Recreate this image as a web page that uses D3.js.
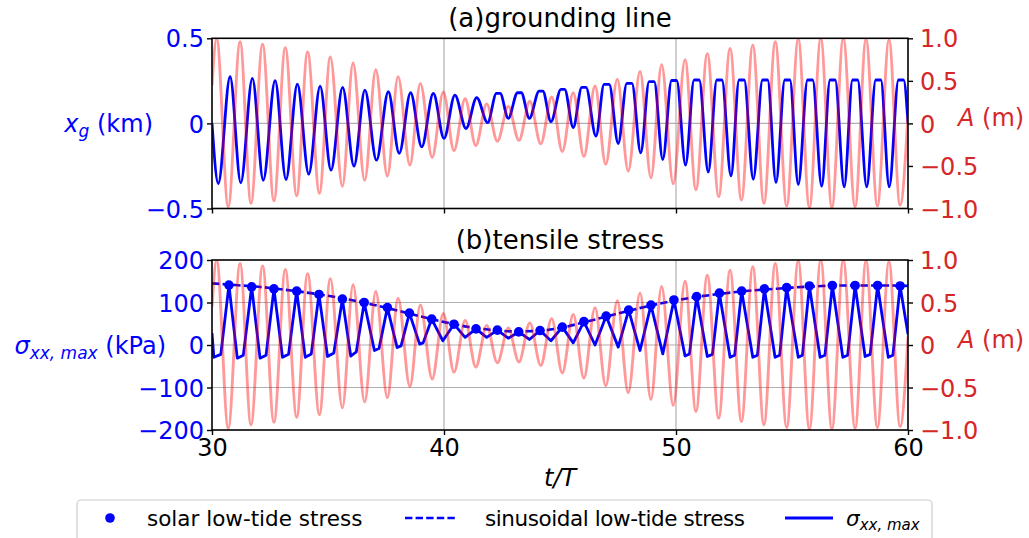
<!DOCTYPE html>
<html>
<head>
<meta charset="utf-8">
<script src="https://cdnjs.cloudflare.com/ajax/libs/d3/7.8.5/d3.min.js"></script>
<style>
  body { margin: 0; background: #fff; }
  text { font-family: "DejaVu Sans", sans-serif; }
</style>
</head>
<body>
<div id="chart"></div>
<script>
// tide A (m): peaks / troughs, [t/T, A]
var tidePts = [
  [30.00, 0.45], [30.20, 1.00], [30.70, -0.98], [31.21, 0.96], [31.68, -0.94],
  [32.18, 0.93], [32.67, -0.91], [33.16, 0.89], [33.65, -0.85], [34.12, 0.84],
  [34.63, -0.82], [35.10, 0.78], [35.62, -0.74], [36.08, 0.71], [36.58, -0.67],
  [37.06, 0.63], [37.56, -0.62], [38.02, 0.55], [38.53, -0.49], [38.98, 0.47],
  [39.49, -0.40], [39.97, 0.37], [40.43, -0.32], [40.91, 0.29], [41.37, -0.26],
  [41.84, 0.23], [42.30, -0.21], [42.77, 0.20], [43.23, -0.20], [43.70, 0.26],
  [44.17, -0.24], [44.64, 0.31], [45.10, -0.33], [45.57, 0.36], [46.03, -0.39],
  [46.51, 0.44], [46.97, -0.48], [47.47, 0.52], [47.94, -0.56], [48.45, 0.61],
  [48.92, -0.64], [49.38, 0.69], [49.88, -0.71], [50.39, 0.75], [50.86, -0.78],
  [51.35, 0.82], [51.84, -0.86], [52.33, 0.88], [52.82, -0.90], [53.31, 0.92],
  [53.79, -0.94], [54.28, 0.96], [54.77, -0.97], [55.27, 0.99], [55.75, -0.99],
  [56.24, 1.00], [56.72, -0.99], [57.21, 1.00], [57.72, -0.98], [58.19, 0.99],
  [58.68, -0.97], [59.18, 0.98], [59.66, -0.96], [60.00, 0.10]
];

// grounding line x_g (km)
var xgPts = [
  [30.00, 0.00], [30.27, -0.353], [30.78, 0.274], [31.24, -0.349], [31.74, 0.265],
  [32.21, -0.334], [32.72, 0.251], [33.19, -0.329], [33.68, 0.231], [34.17, -0.298],
  [34.66, 0.219], [35.13, -0.275], [35.63, 0.212], [36.12, -0.251], [36.59, 0.196],
  [37.09, -0.216], [37.60, 0.186], [38.07, -0.176], [38.56, 0.180], [39.04, -0.138],
  [39.54, 0.176], [40.00, -0.088], [40.47, 0.166], [40.95, -0.030], [41.41, 0.151],
  [41.88, 0.004], [42.26, 0.176], [42.42, 0.176], [42.77, 0.030], [43.17, 0.180],
  [43.33, 0.180], [43.68, 0.030], [44.10, 0.190], [44.26, 0.190], [44.61, 0.010],
  [45.04, 0.200], [45.20, 0.200], [45.57, -0.024], [45.94, 0.212], [46.12, 0.212],
  [46.55, -0.075], [46.90, 0.229], [47.12, 0.229], [47.51, -0.118], [47.88, 0.235],
  [48.10, 0.235], [48.48, -0.173], [48.84, 0.245], [49.06, 0.245], [49.43, -0.212],
  [49.81, 0.252], [50.03, 0.252], [50.41, -0.245], [50.78, 0.255], [51.00, 0.255],
  [51.39, -0.285], [51.76, 0.255], [51.98, 0.255], [52.37, -0.308], [52.72, 0.255],
  [52.94, 0.255], [53.33, -0.328], [53.73, 0.255], [53.95, 0.255], [54.31, -0.347],
  [54.69, 0.255], [54.91, 0.255], [55.27, -0.359], [55.67, 0.255], [55.89, 0.255],
  [56.28, -0.369], [56.64, 0.255], [56.86, 0.255], [57.25, -0.373], [57.61, 0.255],
  [57.83, 0.255], [58.22, -0.373], [58.61, 0.255], [58.83, 0.255], [59.19, -0.373],
  [59.59, 0.255], [59.81, 0.255], [60.00, 0.00]
];

// sigma_xx,max (kPa)
var stressPts = [
  [30.00, 28], [30.08, -29], [30.38, -22], [30.73, 141], [31.09, -31], [31.35, -24],
  [31.71, 137], [32.07, -31], [32.33, -24], [32.67, 132], [33.04, -29], [33.30, -22],
  [33.65, 127], [34.02, -29], [34.28, -21], [34.61, 119], [34.98, -27], [35.25, -19],
  [35.62, 108], [35.98, -26], [36.22, -16], [36.56, 100], [37.00, -13], [37.20, -8],
  [37.56, 88], [37.98, -6], [38.15, -2], [38.51, 75], [38.95, 2], [39.10, 5],
  [39.47, 61], [39.95, 10], [40.43, 49], [40.91, 18], [41.38, 38], [41.84, 18],
  [42.30, 35], [42.77, 16], [43.22, 31], [43.68, 13], [44.14, 34], [44.61, 10],
  [45.10, 42], [45.57, 5], [46.03, 55], [46.51, 0], [46.99, 68], [47.51, -5],
  [47.96, 82], [48.45, -13], [48.92, 94], [49.43, -21], [49.91, 106], [50.39, -26],
  [50.58, -21], [50.89, 114], [51.35, -27], [51.57, -22], [51.87, 122], [52.33, -29],
  [52.53, -24], [52.83, 127], [53.31, -29], [53.51, -24], [53.81, 132], [54.27, -29],
  [54.47, -24], [54.77, 135], [55.27, -29], [55.45, -24], [55.75, 139], [56.21, -29],
  [56.42, -24], [56.74, 140], [57.19, -29], [57.40, -24], [57.72, 140], [58.15, -27],
  [58.37, -22], [58.69, 140], [59.15, -29], [59.35, -24], [59.66, 139], [60.00, 25]
];

// solar low-tide stress (dots)
var solarPts = [
  [30.73, 141], [31.71, 137], [32.67, 132], [33.65, 127], [34.61, 119], [35.62, 108],
  [36.56, 100], [37.56, 88], [38.51, 75], [39.47, 61], [40.43, 49], [41.38, 38],
  [42.30, 35], [43.22, 31], [44.14, 34], [45.10, 42], [46.03, 55], [46.99, 68],
  [47.96, 82], [48.92, 94], [49.91, 106], [50.89, 114], [51.87, 122], [52.83, 127],
  [53.81, 132], [54.77, 135], [55.75, 139], [56.74, 140], [57.72, 140], [58.69, 140],
  [59.66, 139]
];

// sinusoidal low-tide stress (dashed)
var sinusPts = [
  [30, 145], [31, 141], [32, 137], [33, 131], [34, 124], [35, 116], [36, 106],
  [37, 94], [38, 81], [39, 67], [40, 54], [41, 43], [42, 36], [43, 32], [44, 33],
  [45, 40], [46, 53], [47, 67], [48, 81], [49, 94], [50, 105], [51, 114], [52, 121],
  [53, 127], [54, 131], [55, 135], [56, 138], [57, 140], [58, 140], [59, 140], [60, 139]
];

var xTicks = [30, 40, 50, 60];
var xgTicks = [-0.5, 0, 0.5];
var aTicks = [-1.0, -0.5, 0, 0.5, 1.0];
var stressTicks = [-200, -100, 0, 100, 200];

var svgWidth = 1029;
var svgHeight = 538;
var left = 212, right = 908;

var svg = d3.select("#chart")
  .append("svg")
  .attr("width", svgWidth)
  .attr("height", svgHeight);

var xScale = d3.scaleLinear().domain([30, 60]).range([left, right]);

var panels = [
  { top: 38.3, bottom: 208.5, title: "(a)grounding line", id: "a" },
  { top: 260, bottom: 430, title: "(b)tensile stress", id: "b" }
];

var fmtA = d => d === 0 ? "0" : d3.format(".1f")(d);

panels.forEach(function(p, i) {
  p.yA = d3.scaleLinear().domain([-1, 1]).range([p.bottom, p.top]);
  if (i === 0) {
    p.yL = d3.scaleLinear().domain([-0.5, 0.5]).range([p.bottom, p.top]);
    p.lTicks = xgTicks;
    p.lFmt = d => d === 0 ? "0" : d3.format(".1f")(d);
  } else {
    p.yL = d3.scaleLinear().domain([-200, 200]).range([p.bottom, p.top]);
    p.lTicks = stressTicks;
    p.lFmt = d3.format("d");
  }

  svg.append("clipPath").attr("id", "clip" + p.id)
    .append("rect")
    .attr("x", left).attr("y", p.top)
    .attr("width", right - left).attr("height", p.bottom - p.top);

  var g = svg.append("g");

  // grid
  g.selectAll(".vgrid").data([40, 50]).enter().append("line")
    .attr("x1", d => xScale(d)).attr("x2", d => xScale(d))
    .attr("y1", p.top).attr("y2", p.bottom)
    .attr("stroke", "#b0b0b0").attr("stroke-width", 1.2);
  g.selectAll(".hgrid").data(p.lTicks.slice(1, -1)).enter().append("line")
    .attr("x1", left).attr("x2", right)
    .attr("y1", d => p.yL(d)).attr("y2", d => p.yL(d))
    .attr("stroke", "#b0b0b0").attr("stroke-width", 1.2);

  p.g = g.append("g").attr("clip-path", "url(#clip" + p.id + ")");

  // left axis
  var la = svg.append("g")
    .attr("transform", `translate(${left},0)`)
    .call(d3.axisLeft(p.yL).tickValues(p.lTicks).tickFormat(p.lFmt).tickSize(5).tickPadding(3));
  la.select(".domain").remove();
  la.selectAll("line").attr("stroke", "#000").attr("stroke-width", 1.4);
  la.selectAll("text").attr("fill", "#0000ff").attr("font-size", "24px")
    .attr("font-family", "DejaVu Sans").attr("dy", "0.36em");

  // right axis
  var ra = svg.append("g")
    .attr("transform", `translate(${right},0)`)
    .call(d3.axisRight(p.yA).tickValues(aTicks).tickFormat(fmtA).tickSize(5).tickPadding(7));
  ra.select(".domain").remove();
  ra.selectAll("line").attr("stroke", "#000").attr("stroke-width", 1.4);
  ra.selectAll("text").attr("fill", "#d62728").attr("font-size", "24px")
    .attr("font-family", "DejaVu Sans").attr("dy", "0.36em");

  // bottom axis
  var ba = svg.append("g")
    .attr("transform", `translate(0,${p.bottom})`)
    .call(d3.axisBottom(xScale).tickValues(xTicks).tickSize(5).tickPadding(4)
      .tickFormat(i === 1 ? d3.format("d") : ""));
  ba.select(".domain").remove();
  ba.selectAll("line").attr("stroke", "#000").attr("stroke-width", 1.4);
  ba.selectAll("text").attr("fill", "#000").attr("font-size", "24px")
    .attr("font-family", "DejaVu Sans");

  // title
  svg.append("text")
    .attr("x", (left + right) / 2).attr("y", p.top - 11)
    .attr("text-anchor", "middle")
    .attr("font-size", "26px")
    .text(p.title);

  // A (m) label on right
  var rl = svg.append("text")
    .attr("x", 958).attr("y", (p.top + p.bottom) / 2 - 6)
    .attr("dy", "0.36em")
    .attr("fill", "#d62728").attr("font-size", "24px");
  rl.append("tspan").attr("font-style", "italic").text("A");
  rl.append("tspan").text(" (m)");
});

// top left label
var l1 = svg.append("text")
  .attr("x", 153).attr("y", (panels[0].top + panels[0].bottom) / 2)
  .attr("dy", "0.36em").attr("text-anchor", "end")
  .attr("fill", "#0000ff").attr("font-size", "24px");
l1.append("tspan").attr("font-style", "italic").text("x");
l1.append("tspan").attr("font-style", "italic").attr("font-size", "17px").attr("dy", "5").text("g");
l1.append("tspan").attr("dy", "-5").text(" (km)");

var l2 = svg.append("text")
  .attr("x", 166).attr("y", (panels[1].top + panels[1].bottom) / 2)
  .attr("dy", "0.36em").attr("text-anchor", "end")
  .attr("fill", "#0000ff").attr("font-size", "24px");
l2.append("tspan").attr("font-style", "italic").text("σ");
l2.append("tspan").attr("font-style", "italic").attr("font-size", "17px").attr("dy", "5").text("xx, max");
l2.append("tspan").attr("dy", "-5").text(" (kPa)");

// x label
var xl = svg.append("text")
  .attr("x", (left + right) / 2).attr("y", 486)
  .attr("text-anchor", "middle").attr("font-size", "24px")
  .attr("font-style", "italic")
  .text("t/T");

// data lines
var smooth = (ys) => d3.line().x(d => xScale(d[0])).y(d => ys(d[1])).curve(d3.curveMonotoneX);
var sharp = (ys) => d3.line().x(d => xScale(d[0])).y(d => ys(d[1]));

var p0 = panels[0], p1 = panels[1];

p0.g.append("path").datum(xgPts)
  .attr("d", smooth(p0.yL))
  .attr("fill", "none").attr("stroke", "#0000ff").attr("stroke-width", 2.8);
p0.g.append("path").datum(tidePts)
  .attr("d", smooth(p0.yA))
  .attr("fill", "none").attr("stroke", "#ff0000").attr("stroke-opacity", 0.4).attr("stroke-width", 2.9);

p1.g.append("path").datum(sinusPts)
  .attr("d", smooth(p1.yL))
  .attr("fill", "none").attr("stroke", "#0000ff").attr("stroke-width", 2.6)
  .attr("stroke-dasharray", "7.4,3.2");
p1.g.append("path").datum(stressPts)
  .attr("d", sharp(p1.yL))
  .attr("fill", "none").attr("stroke", "#0000ff").attr("stroke-width", 2.8)
  .attr("stroke-linejoin", "round");
p1.g.selectAll("circle").data(solarPts).enter().append("circle")
  .attr("cx", d => xScale(d[0])).attr("cy", d => p1.yL(d[1]))
  .attr("r", 4.8).attr("fill", "#0000ff");
p1.g.append("path").datum(tidePts)
  .attr("d", smooth(p1.yA))
  .attr("fill", "none").attr("stroke", "#ff0000").attr("stroke-opacity", 0.4).attr("stroke-width", 2.9);

// spines
panels.forEach(function(p) {
  svg.append("rect")
    .attr("x", left).attr("y", p.top)
    .attr("width", right - left).attr("height", p.bottom - p.top)
    .attr("fill", "none").attr("stroke", "#000").attr("stroke-width", 1.6);
});

// legend
var lg = svg.append("g");
lg.append("rect")
  .attr("x", 77).attr("y", 500).attr("width", 855).attr("height", 50)
  .attr("rx", 4).attr("fill", "#fff").attr("fill-opacity", 0.8)
  .attr("stroke", "#cccccc").attr("stroke-width", 1.2);
lg.append("circle").attr("cx", 110).attr("cy", 518).attr("r", 4.8).attr("fill", "#0000ff");
lg.append("text").attr("x", 147).attr("y", 518).attr("dy", "0.36em")
  .attr("font-size", "21.5px").text("solar low-tide stress");
lg.append("line").attr("x1", 405).attr("x2", 457).attr("y1", 518).attr("y2", 518)
  .attr("stroke", "#0000ff").attr("stroke-width", 2.6).attr("stroke-dasharray", "7.4,3.2");
lg.append("text").attr("x", 485).attr("y", 518).attr("dy", "0.36em")
  .attr("font-size", "21.5px").attr("textLength", 260).text("sinusoidal low-tide stress");
lg.append("line").attr("x1", 785).attr("x2", 833).attr("y1", 518).attr("y2", 518)
  .attr("stroke", "#0000ff").attr("stroke-width", 2.8);
var lt = lg.append("text").attr("x", 846).attr("y", 518).attr("dy", "0.36em")
  .attr("font-size", "21.5px").attr("font-style", "italic");
lt.append("tspan").text("σ");
lt.append("tspan").attr("font-size", "15px").attr("dy", "4").text("xx, max");
</script>
</body>
</html>
